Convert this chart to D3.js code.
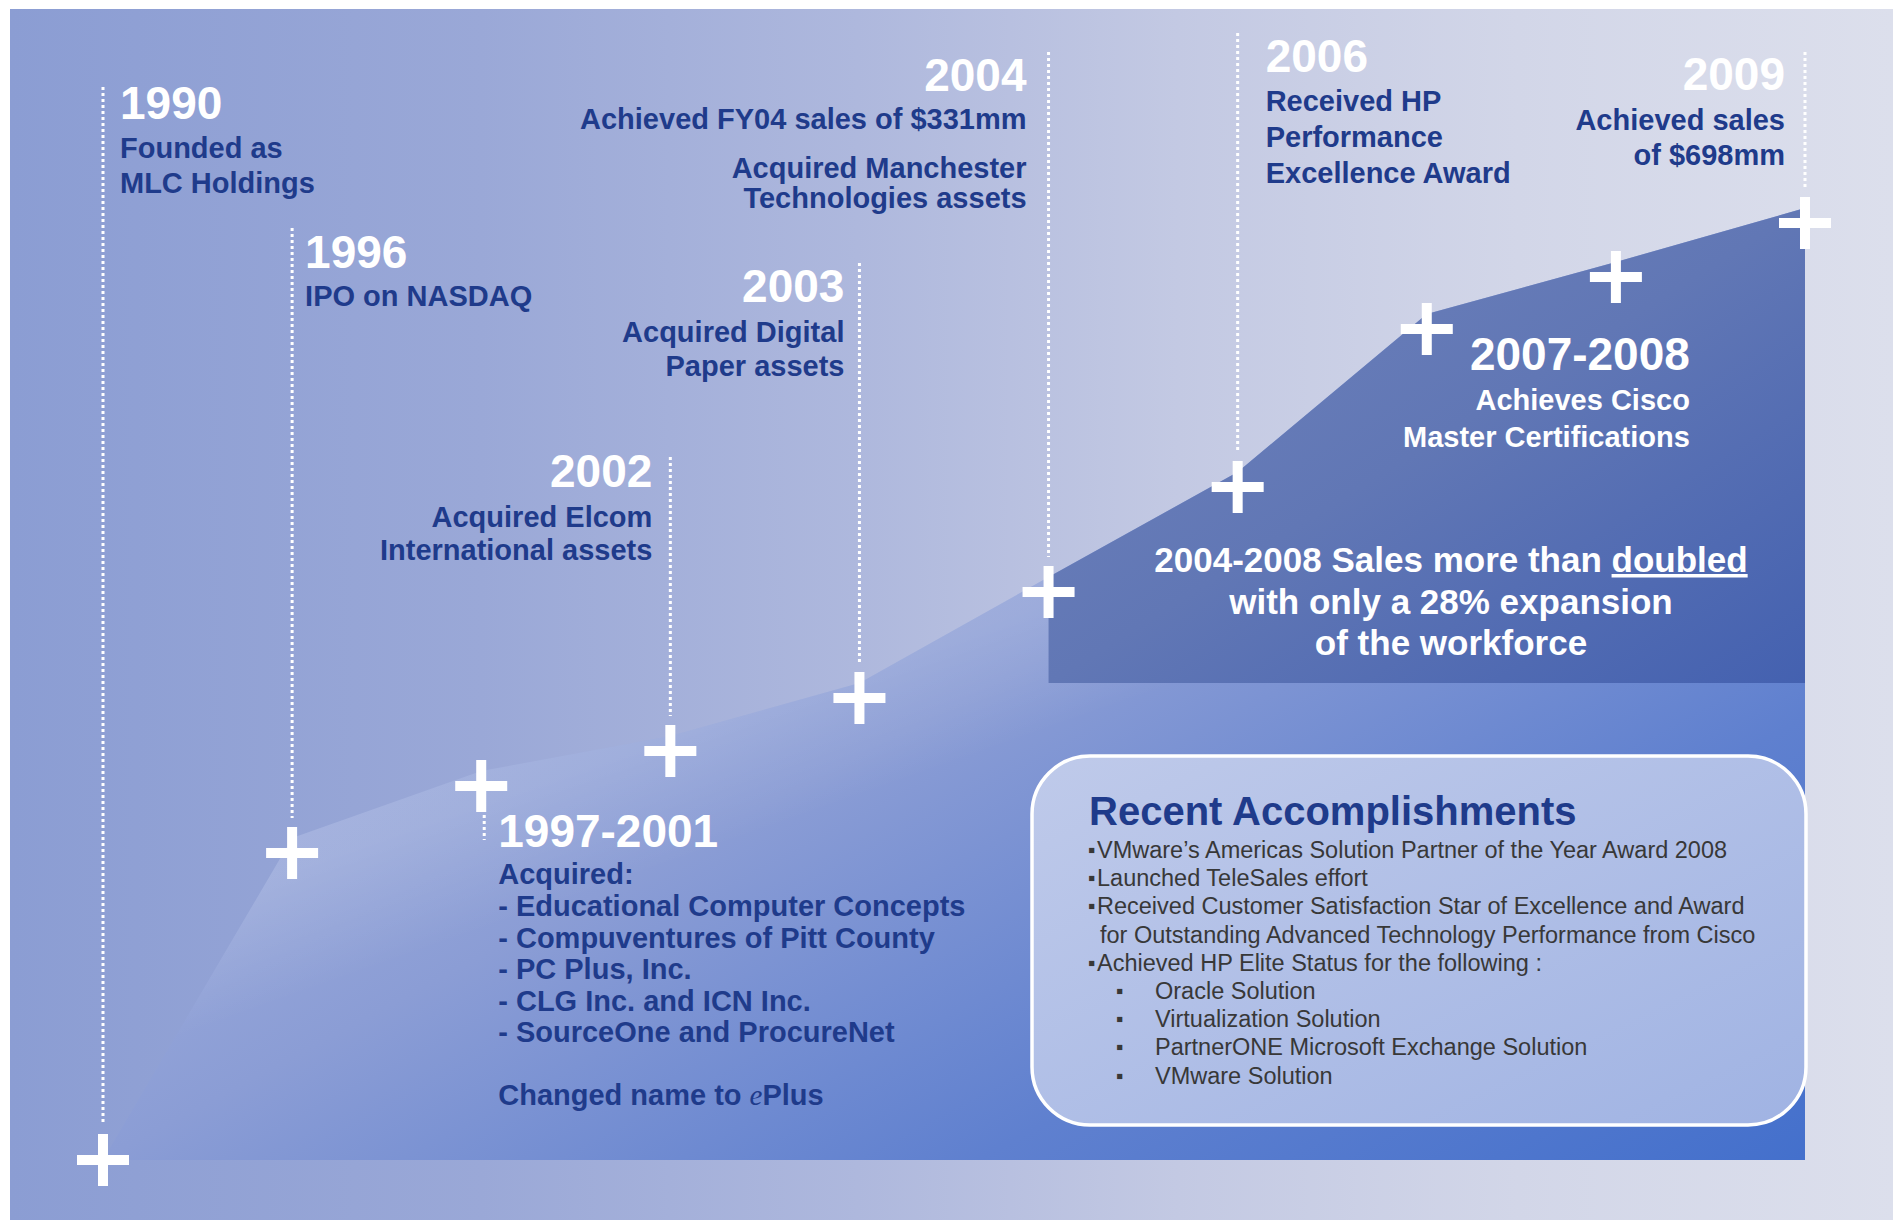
<!DOCTYPE html>
<html>
<head>
<meta charset="utf-8">
<script src="https://cdn.jsdelivr.net/npm/d3@7"></script>
<style>
body { margin: 0; background: #fff; }
svg text { font-family: "Liberation Sans", Arial, sans-serif; }
</style>
</head>
<body>
<svg id="chart"></svg>
<script>
var width = 1898, height = 1220;

// milestones along the growth line and their relative level (0-100)
var milestones = ["1990", "1996", "1997-2001", "2002", "2003", "2004", "2006", "2007", "2008", "2009"];
var growth = [0, 30.7, 37.4, 40.9, 46.2, 56.8, 67.3, 83.1, 88.3, 93.7];
var highlightStart = "2004";

// timeline labels
var labelYears = ["1990", "1996", "1997-2001", "2002", "2003", "2004", "2006", "2007-2008", "2009"];
var labelAnchors = ["1990", "1996", "1997-2001", "2002", "2003", "2004", "2006", "2008", "2009"];
var labelNotes = [
  ["Founded as", "MLC Holdings"],
  ["IPO on NASDAQ"],
  ["Acquired:", "- Educational Computer Concepts", "- Compuventures of Pitt County", "- PC Plus, Inc.",
   "- CLG Inc. and ICN Inc.", "- SourceOne and ProcureNet", "Changed name to ePlus"],
  ["Acquired Elcom", "International assets"],
  ["Acquired Digital", "Paper assets"],
  ["Achieved FY04 sales of $331mm", "Acquired Manchester", "Technologies assets"],
  ["Received HP", "Performance", "Excellence Award"],
  ["Achieves Cisco", "Master Certifications"],
  ["Achieved sales", "of $698mm"]
];

var noteLines = [["2004-2008 Sales more than ", "doubled"], ["with only a 28% expansion"], ["of the workforce"]];

var recentTitle = "Recent Accomplishments";
var recentItems = [
  ["VMware\u2019s Americas Solution Partner of the Year Award 2008"],
  ["Launched TeleSales effort"],
  ["Received Customer Satisfaction Star of Excellence and Award", "for Outstanding Advanced Technology Performance from Cisco"],
  ["Achieved HP Elite Status for the following :"]
];
var hpSolutions = ["Oracle Solution", "Virtualization Solution", "PartnerONE Microsoft Exchange Solution", "VMware Solution"];

// layout of the labels (offset from stem, baseline, line gaps, stem top)
var labelLayout = [
  {dx: 17, y: 119, anchor: "start", gaps: [39, 35], stemTop: 87},
  {dx: 13, y: 268, anchor: "start", gaps: [38], stemTop: 228},
  {dx: 17, y: 847, anchor: "start", gaps: [37, 32, 32, 31, 32, 31, 63], stemTop: null},
  {dx: -18, y: 487, anchor: "end", gaps: [40, 33], stemTop: 457},
  {dx: -15, y: 302, anchor: "end", gaps: [40, 34], stemTop: 263},
  {dx: -22, y: 91, anchor: "end", gaps: [38, 49, 30], stemTop: 52},
  {dx: 28, y: 72, anchor: "start", gaps: [39, 36, 36], stemTop: 33},
  {dx: 74, y: 370, anchor: "end", gaps: [40, 37], stemTop: null, light: true},
  {dx: -20, y: 90, anchor: "end", gaps: [40, 35], stemTop: 52}
];

var navy = "#1f3b8b";
var arm = 26, edgeLift = 15, highlightBottom = 683;

var data = milestones.map((m, i) => ({key: m, value: growth[i]}));

var svg = d3.select("#chart").attr("width", width).attr("height", height);
var defs = svg.append("defs");

function gradient(id, stops, attrs) {
  var g = defs.append("linearGradient").attr("id", id);
  Object.keys(attrs).forEach(k => g.attr(k, attrs[k]));
  g.selectAll("stop").data(stops).enter().append("stop")
    .attr("offset", d => d[0]).attr("stop-color", d => d[1])
    .attr("stop-opacity", d => d[2] == null ? 1 : d[2]);
}

gradient("bg", [[0, "#8b9dd3"], [0.25, "#9aa8d7"], [0.45, "#aeb8dd"], [0.62, "#c3c9e3"], [0.8, "#d2d6e8"], [1, "#dcdfec"]],
  {x1: 0, y1: 0, x2: 1, y2: 0});
gradient("areaFill", [[0, "#97a7d9"], [0.193, "#8b9dd5"], [0.609, "#5f80cf"], [1, "#4470cc"]],
  {gradientUnits: "userSpaceOnUse", x1: 293, y1: 840, x2: 760, y2: 1715});
gradient("sheen", [[0, "#ffffff", 0.13], [1, "#ffffff", 0]],
  {gradientUnits: "userSpaceOnUse", x1: 675, y1: 736, x2: 715, y2: 849});
gradient("dark", [[0, "#7083bc"], [0.5, "#6177b5"], [1, "#4461b0"]], {x1: 0, y1: 0, x2: 1, y2: 1});
gradient("box", [[0, "#bfcaea"], [1, "#a0b3e3"]], {x1: 0, y1: 0, x2: 1, y2: 1});

var xScale = d3.scalePoint().domain(milestones).range([103, 1805]);
var yScale = d3.scaleLinear().domain([0, 100]).range([1160, 160]);

svg.append("rect").attr("x", 10).attr("y", 9).attr("width", 1883).attr("height", height - 9)
  .attr("fill", "url(#bg)");

var edge = d => d.value > 0 ? yScale(d.value) - edgeLift : yScale(0);

var area = d3.area()
  .x(d => xScale(d.key))
  .y0(yScale(0))
  .y1(edge);

svg.append("path").datum(data).attr("d", area).attr("fill", "url(#areaFill)");
svg.append("path").datum(data).attr("d", area).attr("fill", "url(#sheen)");

var highlight = data.slice(milestones.indexOf(highlightStart));
svg.append("path").datum(highlight)
  .attr("d", d3.area().x(d => xScale(d.key)).y0(highlightBottom).y1(edge))
  .attr("fill", "url(#dark)");

// dotted stems
var stems = svg.append("g").attr("stroke", "#fff").attr("stroke-width", 3).attr("stroke-dasharray", "3,3");
labelLayout.forEach((l, i) => {
  var key = labelAnchors[i];
  var d = data[milestones.indexOf(key)];
  var cx = xScale(key), cy = yScale(d.value);
  if (l.stemTop != null) {
    stems.append("line").attr("x1", cx).attr("x2", cx).attr("y1", l.stemTop).attr("y2", cy - arm - 9);
  } else if (!l.light) {
    stems.append("line").attr("x1", cx + 3).attr("x2", cx + 3).attr("y1", cy + arm + 3).attr("y2", l.y - 7);
  }
});

// plus marks
svg.append("g").selectAll("path").data(data).enter().append("path")
  .attr("transform", d => "translate(" + xScale(d.key) + "," + yScale(d.value) + ")")
  .attr("d", "M" + (-arm) + ",0H" + arm + "M0," + (-arm) + "V" + arm)
  .attr("stroke", "#fff").attr("stroke-width", 10).attr("fill", "none");

// timeline labels
labelLayout.forEach((l, i) => {
  var x = xScale(labelAnchors[i]) + l.dx;
  var g = svg.append("g").attr("text-anchor", l.anchor).attr("font-weight", "bold");
  g.append("text").attr("x", x).attr("y", l.y).attr("font-size", 46).attr("fill", "#fff")
    .text(labelYears[i]);
  var y = l.y;
  labelNotes[i].forEach((line, j) => {
    y += l.gaps[j];
    var t = g.append("text").attr("x", x).attr("y", y).attr("font-size", 29)
      .attr("fill", l.light ? "#fff" : navy);
    if (line.indexOf("ePlus") >= 0) {
      t.append("tspan").text(line.replace("ePlus", ""));
      t.append("tspan").attr("font-family", "Liberation Serif, serif").attr("font-style", "italic")
        .attr("font-weight", "normal").text("e");
      t.append("tspan").text("Plus");
    } else {
      t.text(line);
    }
  });
});

// highlight note
var note = svg.append("g").attr("text-anchor", "middle").attr("font-weight", "bold")
  .attr("font-size", 35).attr("fill", "#fff");
noteLines.forEach((parts, i) => {
  var t = note.append("text").attr("x", 1451).attr("y", 572 + i * 41.5);
  parts.forEach((p, j) => {
    var s = t.append("tspan").text(p);
    if (j === 1) s.style("text-decoration", "underline");
  });
});

// recent accomplishments box
svg.append("rect").attr("x", 1032).attr("y", 756).attr("width", 774).attr("height", 369)
  .attr("rx", 58).attr("ry", 58).attr("fill", "url(#box)").attr("stroke", "#fff").attr("stroke-width", 3.5);

svg.append("text").attr("x", 1089).attr("y", 825).attr("font-size", 40).attr("font-weight", "bold")
  .attr("fill", navy).text(recentTitle);

var box = svg.append("g").attr("font-size", 23.5).attr("fill", "#383838");
var by = 858, lh = 28.2;
recentItems.forEach(item => {
  item.forEach((line, j) => {
    if (j === 0) box.append("text").attr("x", 1088).attr("y", by - 1).attr("font-size", 21).text("\u25AA");
    box.append("text").attr("x", j === 0 ? 1097 : 1100).attr("y", by).text(line);
    by += lh;
  });
});
hpSolutions.forEach(s => {
  box.append("text").attr("x", 1116).attr("y", by - 1).attr("font-size", 21).text("\u25AA");
  box.append("text").attr("x", 1155).attr("y", by).text(s);
  by += lh;
});
</script>
</body>
</html>
